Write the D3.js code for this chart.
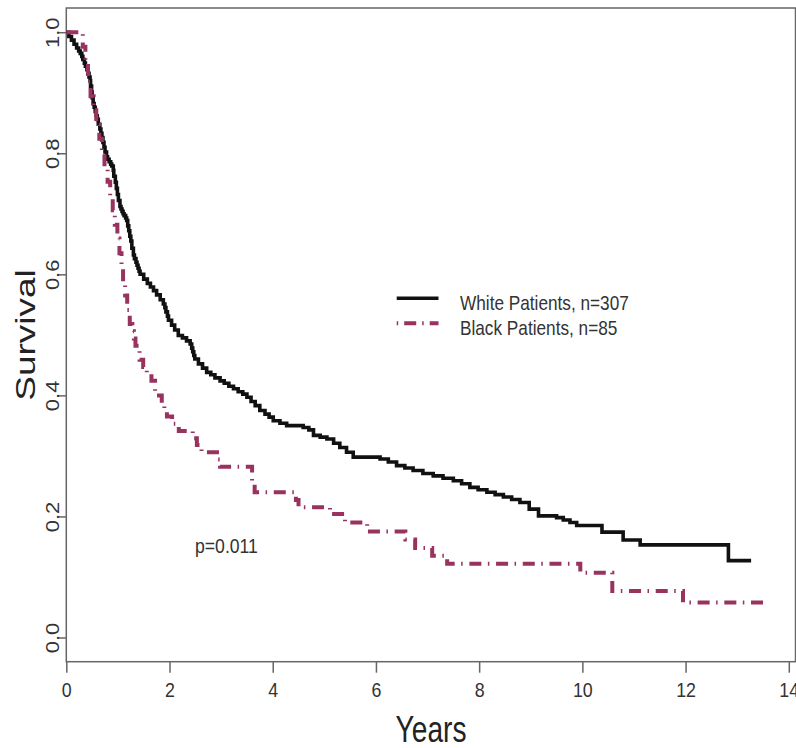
<!DOCTYPE html>
<html>
<head>
<meta charset="utf-8">
<script src="https://cdn.jsdelivr.net/npm/d3@7"></script>
<style>
  html, body { margin: 0; padding: 0; background: #fff; }
  svg { display: block; }
  text { font-family: "Liberation Sans", Arial, sans-serif; }
</style>
</head>
<body>
<script>
// Kaplan–Meier survival estimates: [years, survival] step points
const whiteCurve = [
  [0,1.000],[0.05,0.993],[0.10,0.987],[0.15,0.980],[0.20,0.974],[0.24,0.969],[0.27,0.965],
  [0.30,0.960],[0.32,0.955],[0.35,0.949],[0.37,0.944],[0.40,0.938],[0.42,0.932],[0.44,0.926],
  [0.46,0.920],[0.47,0.911],[0.49,0.901],[0.50,0.892],[0.52,0.882],[0.54,0.876],[0.56,0.869],
  [0.58,0.862],[0.60,0.856],[0.62,0.848],[0.65,0.840],[0.67,0.833],[0.69,0.826],[0.71,0.818],
  [0.73,0.810],[0.75,0.802],[0.78,0.794],[0.80,0.790],[0.83,0.786],[0.86,0.782],[0.88,0.779],
  [0.91,0.772],[0.92,0.762],[0.95,0.752],[0.97,0.742],[0.99,0.732],[1.01,0.722],[1.04,0.712],
  [1.06,0.708],[1.08,0.704],[1.10,0.700],[1.12,0.697],[1.15,0.693],[1.17,0.689],[1.19,0.680],
  [1.21,0.672],[1.23,0.663],[1.25,0.655],[1.27,0.643],[1.30,0.632],[1.32,0.626],[1.35,0.620],
  [1.37,0.615],[1.39,0.610],[1.41,0.605],[1.43,0.600],[1.50,0.592],[1.57,0.585],[1.63,0.579],
  [1.69,0.573],[1.75,0.566],[1.82,0.558],[1.88,0.551],[1.91,0.545],[1.93,0.538],[1.96,0.531],
  [1.98,0.524],[2.04,0.516],[2.10,0.508],[2.17,0.499],[2.25,0.495],[2.33,0.490],[2.40,0.485],
  [2.43,0.478],[2.45,0.472],[2.47,0.466],[2.49,0.460],[2.56,0.452],[2.64,0.445],[2.72,0.438],
  [2.80,0.434],[2.88,0.429],[2.98,0.424],[3.06,0.420],[3.15,0.415],[3.24,0.411],[3.33,0.406],
  [3.42,0.402],[3.50,0.397],[3.58,0.390],[3.66,0.383],[3.75,0.375],[3.85,0.369],[3.93,0.364],
  [4.01,0.358],[4.14,0.354],[4.27,0.350],[4.59,0.347],[4.70,0.343],[4.79,0.334],[4.92,0.331],
  [5.05,0.328],[5.18,0.321],[5.30,0.314],[5.43,0.306],[5.56,0.298],[6.08,0.295],[6.24,0.290],
  [6.40,0.284],[6.56,0.280],[6.72,0.276],[6.91,0.271],[7.11,0.267],[7.30,0.263],[7.50,0.259],
  [7.66,0.254],[7.82,0.248],[7.98,0.244],[8.15,0.240],[8.31,0.236],[8.47,0.232],[8.63,0.228],
  [8.79,0.223],[8.97,0.212],[9.15,0.201],[9.50,0.198],[9.63,0.194],[9.76,0.190],[9.89,0.185],
  [10.38,0.174],[10.79,0.161],[11.12,0.153],[12.83,0.127],[13.27,0.127]
];

const blackCurve = [
  [0,1.000],[0.32,0.976],[0.37,0.953],[0.42,0.918],[0.47,0.894],[0.53,0.871],[0.58,0.847],
  [0.64,0.824],[0.69,0.800],[0.74,0.776],[0.80,0.753],[0.85,0.729],[0.90,0.706],[0.94,0.682],
  [0.99,0.659],[1.03,0.635],[1.07,0.612],[1.10,0.588],[1.14,0.565],[1.18,0.541],[1.23,0.518],
  [1.28,0.506],[1.31,0.494],[1.34,0.482],[1.42,0.459],[1.49,0.447],[1.56,0.435],[1.65,0.424],
  [1.72,0.400],[1.85,0.388],[1.90,0.376],[1.95,0.365],[2.05,0.353],[2.18,0.341],[2.45,0.329],
  [2.53,0.318],[2.62,0.306],[2.92,0.294],[2.98,0.282],[3.60,0.259],[3.65,0.240],[4.45,0.227],
  [4.50,0.215],[5.11,0.204],[5.40,0.190],[5.83,0.175],[6.57,0.162],[6.76,0.148],[7.09,0.135],
  [7.38,0.122],[9.96,0.107],[10.58,0.077],[11.95,0.058],[13.54,0.058]
];

const xTicks = [0, 2, 4, 6, 8, 10, 12, 14];
const yTicks = [0.0, 0.2, 0.4, 0.6, 0.8, 1.0];
const seriesNames = ["White Patients, n=307", "Black Patients, n=85"];
const pValueLabel = "p=0.011";
const xTitle = "Years";
const yTitle = "Survival";

const W = 796, H = 748;
const plot = { left: 66.3, right: 795.5, top: 8, bottom: 661.7 };
const SX = 0.76; // narrow lettering for the titles

const svg = d3.select("body").append("svg").attr("width", W).attr("height", H);

const x = d3.scaleLinear().domain([0, 14.13]).range([plot.left, plot.right]);
const y = d3.scaleLinear().domain([-0.04, 1.04]).range([plot.bottom, plot.top]);

const axisColor = "#666";
const textColor = "#333";

// x axis
const gx = svg.append("g").attr("transform", `translate(0,${plot.bottom})`)
  .call(d3.axisBottom(x).tickValues(xTicks).tickSize(11).tickSizeOuter(0).tickFormat(d3.format("d")));
gx.select(".domain").remove();
gx.selectAll(".tick line").attr("stroke", axisColor).attr("stroke-width", 1.5);
gx.selectAll(".tick text")
  .attr("y", 35.3).attr("dy", 0)
  .attr("transform", "scale(0.85,1)")
  .attr("font-size", 21).attr("fill", textColor);

// y axis
const gy = svg.append("g").attr("transform", `translate(${plot.left},0)`)
  .call(d3.axisLeft(y).tickValues(yTicks).tickSize(8).tickSizeOuter(0).tickFormat(d3.format(".1f")));
gy.select(".domain").remove();
gy.selectAll(".tick line").attr("stroke", axisColor).attr("stroke-width", 1.5);
gy.selectAll(".tick text")
  .attr("x", 0).attr("y", 0).attr("dy", 0)
  .attr("text-anchor", "middle")
  .attr("transform", "translate(-7.5,0) scale(0.82,1) rotate(-90)")
  .attr("font-size", 22).attr("fill", textColor);

// plot frame
svg.append("rect")
  .attr("x", plot.left).attr("y", plot.top)
  .attr("width", plot.right - plot.left).attr("height", plot.bottom - plot.top)
  .attr("fill", "none").attr("stroke", axisColor).attr("stroke-width", 1.5);

// survival curves
const line = d3.line().x(d => x(d[0])).y(d => y(d[1])).curve(d3.curveStepAfter);
const pink = "#98325f";
const dotDash = "12 6.5 1.5 6.7";

svg.append("path").datum(whiteCurve)
  .attr("d", line).attr("fill", "none")
  .attr("stroke", "#111").attr("stroke-width", 3.6)
  .attr("stroke-linejoin", "miter").attr("stroke-linecap", "butt");

svg.append("path").datum(blackCurve)
  .attr("d", line).attr("fill", "none")
  .attr("stroke", pink).attr("stroke-width", 4)
  .attr("stroke-dasharray", dotDash)
  .attr("stroke-linecap", "butt");

// legend
const legend = svg.append("g");
const legX0 = 396.7, legX1 = 438.5, legY = [298.3, 323.3];
legend.append("line")
  .attr("x1", legX0).attr("x2", legX1).attr("y1", legY[0]).attr("y2", legY[0])
  .attr("stroke", "#111").attr("stroke-width", 3.6);
legend.append("line")
  .attr("x1", legX0).attr("x2", legX1).attr("y1", legY[1]).attr("y2", legY[1])
  .attr("stroke", pink).attr("stroke-width", 4)
  .attr("stroke-dasharray", "1.5 6 12 6");
seriesNames.forEach((name, i) => {
  legend.append("text")
    .attr("transform", `translate(460,${legY[i] + 11.3}) scale(0.82,1)`)
    .attr("font-size", 21).attr("fill", textColor)
    .text(name);
});

// log-rank p value
svg.append("text")
  .attr("transform", "translate(195,552.5) scale(0.84,1)")
  .attr("font-size", 21).attr("fill", textColor)
  .text(pValueLabel);

// axis titles
svg.append("text")
  .attr("transform", `translate(431,741.5) scale(${SX},1)`)
  .attr("text-anchor", "middle")
  .attr("font-size", 37).attr("fill", "#222")
  .text(xTitle);

svg.append("text")
  .attr("transform", `translate(35,335) scale(${SX},1) rotate(-90)`)
  .attr("text-anchor", "middle")
  .attr("font-size", 37).attr("fill", "#222")
  .text(yTitle);
</script>
</body>
</html>
